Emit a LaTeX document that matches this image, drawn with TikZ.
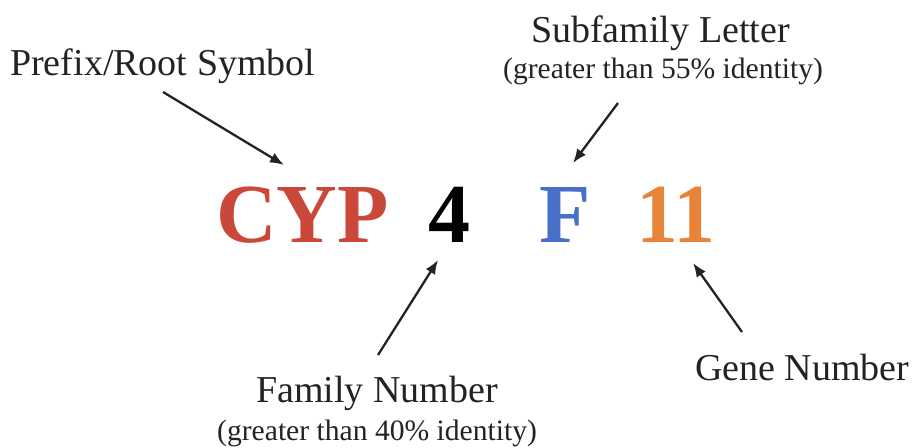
\documentclass[tikz,border=0pt]{standalone}
\usepackage{fontspec}
\setmainfont{Liberation Serif}
\usepackage{tikz}
\usetikzlibrary{calc,arrows.meta}

\definecolor{cypred}{RGB}{201,72,58}
\definecolor{famblue}{RGB}{74,111,200}
\definecolor{geneorange}{RGB}{232,132,58}
\definecolor{labelgray}{RGB}{35,35,35}

\begin{document}
\begin{tikzpicture}[x=1pt, y=-1pt,
    big/.style={anchor=base west, inner sep=0pt, font=\fontsize{84}{90}\bfseries\selectfont},
    lbl/.style={anchor=base west, inner sep=0pt, text=labelgray, font=\fontsize{38}{40}\selectfont},
    sub/.style={anchor=base west, inner sep=0pt, text=labelgray, font=\fontsize{29.6}{32}\selectfont},
    pointer/.style={-{Latex[length=14pt,width=11pt]}, line width=2.3pt, labelgray}]
\useasboundingbox (0,0) rectangle (915,447);
%name parts
\node[big, text=cypred] (cyp) at (216,242) {CYP};
\node[big] (fam) at (428,242) {4};
\node[big, text=famblue] (subfam) at (539,242) {F};
\node[big, text=geneorange] (gene) at (636,242) {11};

%labels
\node[lbl] (prefix) at (10,75) {Prefix/Root Symbol};
\node[lbl] (subname) at (531,42) {Subfamily Letter};
\node[sub] (subid) at (503,78) {(greater than 55\% identity)};
\node[lbl] (famname) at (256,402) {Family Number};
\node[sub] (famid) at (217,440) {(greater than 40\% identity)};
\node[lbl] (genename) at (695,380) {Gene Number};

%arrows
\draw[pointer] (163,92) coordinate (pre_1) -- (284,165) coordinate (pre_2);
\draw[pointer] (618,103) coordinate (sub_1) -- (573,163) coordinate (sub_2);
\draw[pointer] (378,355) coordinate (fam_1) -- (438,260) coordinate (fam_2);
\draw[pointer] (742,332) coordinate (gene_1) -- (693,263) coordinate (gene_2);
\end{tikzpicture}
\end{document}
